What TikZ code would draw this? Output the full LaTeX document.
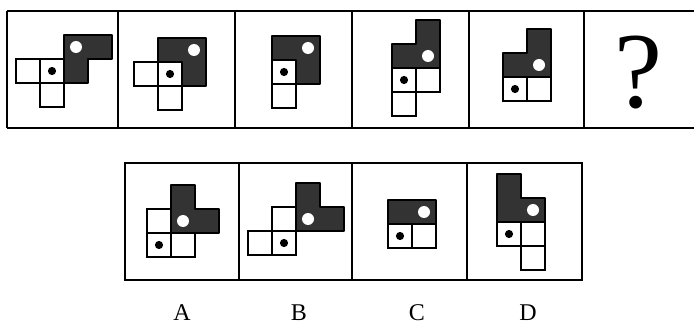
\documentclass[tikz,border=0pt]{standalone}
\usepackage{fontspec}
\setmainfont{Liberation Serif}
\begin{document}
\begin{tikzpicture}[x=1pt,y=-1pt,
  frame/.style={draw=black, line width=1.8pt},
  wsq/.style={draw=black, line width=1.6pt, fill=white},
  dk/.style={draw=black, line width=1.6pt, fill=black!80, line join=round},
  hole/.style={fill=white, draw=none},
  dotb/.style={fill=black, draw=none},
  lab/.style={anchor=base, font=\fontsize{24}{24}\selectfont, inner sep=0pt}
]
\useasboundingbox (0,0) rectangle (694,326);
% top row frame
\draw[frame] (7,11) -- (694,11);
\draw[frame] (7,128) -- (694,128);
\foreach \xx in {7,118,235,352,469,584} \draw[frame] (\xx,11) -- (\xx,128);
% bottom row frame
\draw[frame] (125,163) rectangle (582,280);
\foreach \xx in {239,352,467} \draw[frame] (\xx,163) -- (\xx,280);

% Figure 1
\begin{scope}[shift={(16,107)}, x=24pt, y=24pt]
  \draw[wsq] (0,1) rectangle (1,2);
  \draw[wsq] (1,1) rectangle (2,2);
  \draw[wsq] (1,0) rectangle (2,1);
  \draw[dk] (2,1) -- (3,1) -- (3,2) -- (4,2) -- (4,3) -- (2,3) -- cycle;
  \fill[hole] (2.5,2.5) circle (0.25);
  \fill[dotb] (1.5,1.5) circle (0.17);
\end{scope}
% Figure 2
\begin{scope}[shift={(134,110)}, x=24pt, y=24pt]
  \draw[wsq] (0,1) rectangle (1,2);
  \draw[wsq] (1,1) rectangle (2,2);
  \draw[wsq] (1,0) rectangle (2,1);
  \draw[dk] (2,1) -- (3,1) -- (3,3) -- (1,3) -- (1,2) -- (2,2) -- cycle;
  \fill[hole] (2.5,2.5) circle (0.25);
  \fill[dotb] (1.5,1.5) circle (0.17);
\end{scope}
% Figure 3
\begin{scope}[shift={(272,108)}, x=24pt, y=24pt]
  \draw[wsq] (0,0) rectangle (1,1);
  \draw[wsq] (0,1) rectangle (1,2);
  \draw[dk] (1,1) -- (2,1) -- (2,3) -- (0,3) -- (0,2) -- (1,2) -- cycle;
  \fill[hole] (1.5,2.5) circle (0.25);
  \fill[dotb] (0.5,1.5) circle (0.17);
\end{scope}
% Figure 4
\begin{scope}[shift={(392,116)}, x=24pt, y=24pt]
  \draw[wsq] (0,0) rectangle (1,1);
  \draw[wsq] (0,1) rectangle (1,2);
  \draw[wsq] (1,1) rectangle (2,2);
  \draw[dk] (0,2) -- (2,2) -- (2,4) -- (1,4) -- (1,3) -- (0,3) -- cycle;
  \fill[hole] (1.5,2.5) circle (0.25);
  \fill[dotb] (0.5,1.5) circle (0.17);
\end{scope}
% Figure 5
\begin{scope}[shift={(503,101)}, x=24pt, y=24pt]
  \draw[wsq] (0,0) rectangle (1,1);
  \draw[wsq] (1,0) rectangle (2,1);
  \draw[dk] (0,1) -- (2,1) -- (2,3) -- (1,3) -- (1,2) -- (0,2) -- cycle;
  \fill[hole] (1.5,1.5) circle (0.25);
  \fill[dotb] (0.5,0.5) circle (0.17);
\end{scope}
% Question mark
\node[anchor=base, inner sep=0pt, font=\fontsize{108}{108}\selectfont] (q) at (638,108) {?};

% Option A
\begin{scope}[shift={(147,257)}, x=24pt, y=24pt]
  \draw[wsq] (0,0) rectangle (1,1);
  \draw[wsq] (1,0) rectangle (2,1);
  \draw[wsq] (0,1) rectangle (1,2);
  \draw[dk] (1,1) -- (3,1) -- (3,2) -- (2,2) -- (2,3) -- (1,3) -- cycle;
  \fill[hole] (1.5,1.5) circle (0.25);
  \fill[dotb] (0.5,0.5) circle (0.17);
\end{scope}
% Option B
\begin{scope}[shift={(248,255)}, x=24pt, y=24pt]
  \draw[wsq] (0,0) rectangle (1,1);
  \draw[wsq] (1,0) rectangle (2,1);
  \draw[wsq] (1,1) rectangle (2,2);
  \draw[dk] (2,1) -- (4,1) -- (4,2) -- (3,2) -- (3,3) -- (2,3) -- cycle;
  \fill[hole] (2.5,1.5) circle (0.25);
  \fill[dotb] (1.5,0.5) circle (0.17);
\end{scope}
% Option C
\begin{scope}[shift={(388,248)}, x=24pt, y=24pt]
  \draw[wsq] (0,0) rectangle (1,1);
  \draw[wsq] (1,0) rectangle (2,1);
  \draw[dk] (0,1) -- (2,1) -- (2,2) -- (0,2) -- cycle;
  \fill[hole] (1.5,1.5) circle (0.25);
  \fill[dotb] (0.5,0.5) circle (0.17);
\end{scope}
% Option D
\begin{scope}[shift={(497,270)}, x=24pt, y=24pt]
  \draw[wsq] (1,0) rectangle (2,1);
  \draw[wsq] (0,1) rectangle (1,2);
  \draw[wsq] (1,1) rectangle (2,2);
  \draw[dk] (0,2) -- (2,2) -- (2,3) -- (1,3) -- (1,4) -- (0,4) -- cycle;
  \fill[hole] (1.5,2.5) circle (0.25);
  \fill[dotb] (0.5,1.5) circle (0.17);
\end{scope}

% labels
\node[lab] (la) at (182,320) {A};
\node[lab] (lb) at (299,320) {B};
\node[lab] (lc) at (417,320) {C};
\node[lab] (ld) at (528,320) {D};
\end{tikzpicture}
\end{document}
